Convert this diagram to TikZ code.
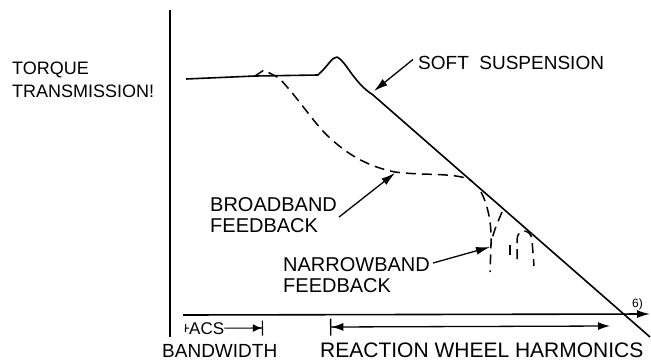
\documentclass[tikz,border=0pt]{standalone}
\usepackage{fontspec}
\setmainfont{Liberation Sans}
\usetikzlibrary{arrows.meta}

\begin{document}
\begin{tikzpicture}[x=1pt, y=-1pt,
    curve/.style={draw=black, line width=1.6pt, line join=round},
    feedback/.style={draw=black, line width=1.5pt, dash pattern=on 10pt off 6pt},
    pointer/.style={draw=black, line width=1.3pt, -{Latex[length=14pt,width=8pt]}},
    axis/.style={draw=black, line width=1.6pt},
    label/.style={inner sep=0pt, align=left}]
  \useasboundingbox (0,0) rectangle (651,362);
  % Axes
  \coordinate (ytop) at (170,10);
  \coordinate (ybot) at (170,337);
  \draw[axis] (ytop) -- (ybot);
  \coordinate (xl) at (183,315);
  \coordinate (xr) at (650,314);
  \draw[axis, -{Latex[length=13pt,width=8pt]}] (xl) -- (xr);
  \node[label, anchor=base west, font=\fontsize{12}{12}\selectfont] (six) at (632,307) {6)};
  \node[label, anchor=north west, font=\fontsize{18}{23}\selectfont] (torque) at (12,62)
    {TORQUE\\TRANSMISSION!};
  % Transmission curves
  \draw[curve] (186,79) -- (255,76) -- (318,75)
    .. controls (328,66) and (332,57) .. (337,57)
    .. controls (346,61) and (353,82) .. (373,95) -- (650,337);
  \draw[feedback] (255,76) -- (264,70) -- (279,78)
    .. controls (300,100) and (315,125) .. (330,138)
    .. controls (345,152) and (365,166) .. (395,172)
    .. controls (425,176) and (458,172) .. (472,181);
  % Narrowband notches
  \draw[feedback] (481,192) .. controls (488,205) and (492,225) .. (491,245) -- (490,272);
  \draw[feedback] (502,212) .. controls (497,224) and (492,235) .. (491,245);
  \draw[feedback] (510,245) -- (510,259);
  \draw[feedback] (517,259) -- (517,240) .. controls (517,228) and (531,228) .. (532,240) -- (534,266);
  % Labels and pointers
  \coordinate (softtip) at (374,91);
  \node[label, anchor=base west, font=\fontsize{19}{19}\selectfont] (soft) at (418,69) {SOFT\ \ SUSPENSION};
  \draw[pointer] ([shift={(-5pt,3pt)}]soft.west) -- (softtip);
  \coordinate (broadtip) at (395,173);
  \node[label, anchor=north west, font=\fontsize{20}{21}\selectfont] (broad) at (210,197) {BROADBAND\\FEEDBACK};
  \draw[pointer] ([shift={(2pt,-20pt)}]broad.north east) -- (broadtip);
  \coordinate (narrowtip) at (490,247);
  \node[label, anchor=north west, font=\fontsize{20}{21}\selectfont] (narrow) at (283,257) {NARROWBAND\\FEEDBACK};
  \draw[pointer] ([shift={(3pt,-6pt)}]narrow.north east) -- (narrowtip);
  % Frequency bands
  \node[label, anchor=base west, font=\fontsize{17}{17}\selectfont] (acs) at (189,334) {ACS};
  \coordinate (acsl) at (185,328);
  \coordinate (acsr) at (263,328);
  \draw[line width=1.1pt, -{Bar[width=8pt]}] (acs.west) -- (acsl);
  \draw[line width=1.1pt, -{Latex[length=9pt,width=8pt]Bar[width=15pt]}] (acs.east) -- (acsr);
  \coordinate (harml) at (330,327);
  \coordinate (harmr) at (610,326);
  \draw[line width=1.3pt, {Bar[width=17pt]Latex[length=12pt,width=8pt]}-{Latex[length=12pt,width=8pt]}] (harml) -- (harmr);
  \node[label, anchor=base west, font=\fontsize{19}{19}\selectfont] (bandwidth) at (162,357) {BANDWIDTH};
  \node[label, anchor=base west, font=\fontsize{21}{21}\selectfont] (harmonics) at (320,357) {REACTION WHEEL HARMONICS};
\end{tikzpicture}
\end{document}
